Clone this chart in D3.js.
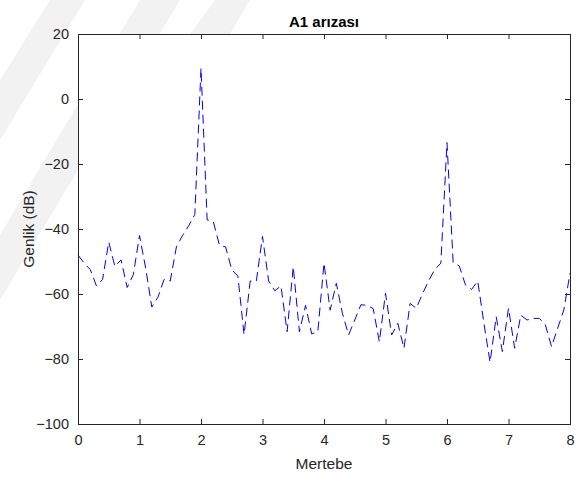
<!DOCTYPE html>
<html>
<head>
<meta charset="utf-8">
<script src="https://cdn.jsdelivr.net/npm/d3@7/dist/d3.min.js"></script>
<style>
    body { margin: 0; background: #fff; }
    svg text { font-family: Arial, "Liberation Sans", sans-serif; fill: #262626; }
</style>
</head>
<body>
<svg id="chart" width="587" height="477"></svg>
<script>
// Data
const mertebe = [
    0.0, 0.1, 0.2, 0.3, 0.4, 0.5, 0.6, 0.7, 0.8, 0.9,
    1.0, 1.1, 1.2, 1.3, 1.4, 1.5, 1.6, 1.7, 1.8, 1.9,
    2.0, 2.1, 2.2, 2.3, 2.4, 2.5, 2.6, 2.7, 2.8, 2.9,
    3.0, 3.1, 3.2, 3.3, 3.4, 3.5, 3.6, 3.7, 3.8, 3.9,
    4.0, 4.1, 4.2, 4.3, 4.4, 4.5, 4.6, 4.7, 4.8, 4.9,
    5.0, 5.1, 5.2, 5.3, 5.4, 5.5, 5.6, 5.7, 5.8, 5.9,
    6.0, 6.1, 6.2, 6.3, 6.4, 6.5, 6.6, 6.7, 6.8, 6.9,
    7.0, 7.1, 7.2, 7.3, 7.4, 7.5, 7.6, 7.7, 7.8, 7.9,
    8.0
];
const genlik = [
    -48, -50.5, -52.5, -57.5, -55.5, -44, -51.5, -49.5, -58, -54,
    -42, -52, -64, -61, -55.5, -56, -45.5, -42, -39, -35.5,
    9.5, -37.2, -37.7, -45, -45.5, -52.5, -54.5, -72.5, -56, -56,
    -42.3, -56, -59, -57.5, -71.6, -51.6, -71.6, -63.5, -72.3, -71.5,
    -50.5, -65, -56.7, -66, -72.6, -68, -63.3, -63.5, -64.5, -74.7,
    -59.8, -72.6, -69, -76.7, -62.9, -64.4, -60, -56, -52.5, -50.5,
    -13.4, -50.3, -51.4, -57.2, -58.6, -56, -69, -81, -67, -77.7,
    -64.4, -76.7, -66.5, -68, -67.5, -67.5, -69.5, -76.2, -70.5, -64.9,
    -53.6
];
const xTicks = [0, 1, 2, 3, 4, 5, 6, 7, 8];
const yTicks = [-100, -80, -60, -40, -20, 0, 20];

const title = "A1 arızası";
const xLabel = "Mertebe";
const yLabel = "Genlik (dB)";

// Size settings
const width = 587;
const height = 477;
const margin = {top: 34, right: 17, bottom: 53, left: 78};
const plotW = width - margin.left - margin.right;
const plotH = height - margin.top - margin.bottom;
const axisColor = "#262626";
const tickLen = 5;

const svg = d3.select("#chart");

// faint background watermark stripes
const stripes = svg.append("g").attr("fill", "#f2f2f2");
[[0, 300, 180, 0, 140, 0, 0, 235],
 [0, 140, 85, 0, 50, 0, 0, 80],
 [190, 34, 215, 0, 250, 0, 230, 34]].forEach(p => {
    stripes.append("polygon")
        .attr("points", [[p[0], p[1]], [p[2], p[3]], [p[4], p[5]], [p[6], p[7]]].join(" "));
});

const g = svg.append("g")
    .attr("transform", `translate(${margin.left},${margin.top})`);

// Scales
const x = d3.scaleLinear().domain([0, 8]).range([0, plotW]);
const y = d3.scaleLinear().domain([-100, 20]).range([plotH, 0]);

// Axes background
g.append("rect")
    .attr("width", plotW)
    .attr("height", plotH)
    .attr("fill", "#fff");

// Data line
const line = d3.line()
    .x((d, i) => x(mertebe[i]))
    .y(d => y(d));

g.append("path")
    .datum(genlik)
    .attr("fill", "none")
    .attr("stroke", "#0000ff")
    .attr("stroke-width", 1)
    .attr("stroke-dasharray", "9,5")
    .attr("d", line);

// Axes (ticks pointing inward, MATLAB style)
function styleAxis(sel) {
    sel.select(".domain").remove();
    sel.selectAll(".tick line").attr("stroke", axisColor);
    sel.selectAll(".tick text")
        .attr("fill", axisColor)
        .style("font-size", "14.5px")
        .style("font-family", "Arial, 'Liberation Sans', sans-serif");
}

g.append("g")
    .attr("transform", `translate(0,${plotH})`)
    .call(d3.axisBottom(x).tickValues(xTicks).tickSize(-tickLen).tickPadding(11).tickFormat(d3.format("d")))
    .call(styleAxis);

g.append("g")
    .call(d3.axisLeft(y).tickValues(yTicks).tickSize(-tickLen).tickPadding(9).tickFormat(d3.format("d")))
    .call(styleAxis);

g.append("g")
    .call(d3.axisTop(x).tickValues(xTicks).tickSize(-tickLen).tickFormat(""))
    .call(styleAxis);

g.append("g")
    .attr("transform", `translate(${plotW},0)`)
    .call(d3.axisRight(y).tickValues(yTicks).tickSize(-tickLen).tickFormat(""))
    .call(styleAxis);

// Box
g.append("rect")
    .attr("x", 0.5)
    .attr("y", 0.5)
    .attr("width", plotW)
    .attr("height", plotH)
    .attr("fill", "none")
    .attr("stroke", axisColor)
    .attr("stroke-width", 1);

// Title and labels
svg.append("text")
    .attr("x", margin.left + plotW / 2)
    .attr("y", 27)
    .attr("text-anchor", "middle")
    .style("font-size", "15px")
    .style("font-weight", "bold")
    .style("fill", "#000")
    .text(title);

svg.append("text")
    .attr("x", margin.left + plotW / 2)
    .attr("y", 469)
    .attr("text-anchor", "middle")
    .style("font-size", "15.5px")
    .text(xLabel);

svg.append("text")
    .attr("transform", `translate(34,${margin.top + plotH / 2}) rotate(-90)`)
    .attr("text-anchor", "middle")
    .style("font-size", "15.5px")
    .text(yLabel);
</script>
</body>
</html>
